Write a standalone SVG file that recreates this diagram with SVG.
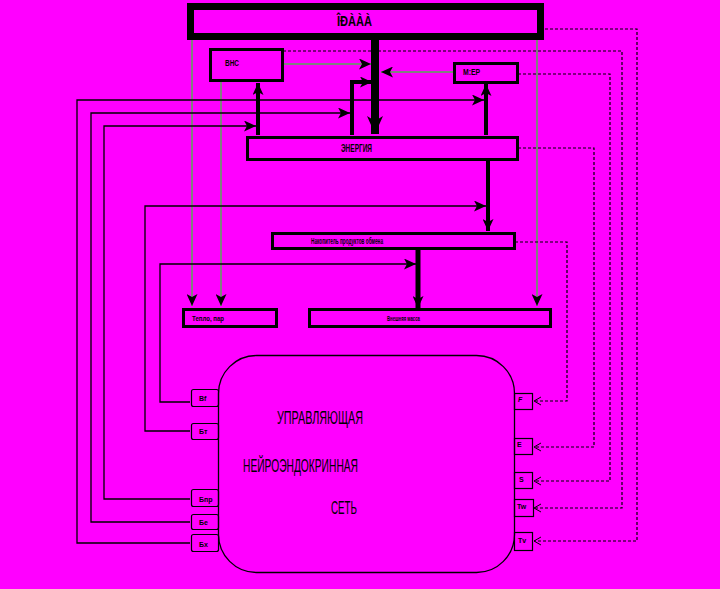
<svg xmlns="http://www.w3.org/2000/svg" width="720" height="589" viewBox="0 0 720 589">
<style>
.bg{fill:#FF00FF}
.box{fill:none;stroke:#000}
.t{font-family:"Liberation Sans",Arial,sans-serif;fill:#000}
.b{font-weight:bold}
.thin{fill:none;stroke:#000;stroke-width:1.3}
.gray{fill:none;stroke:#808080;stroke-width:2}
.dash{fill:none;stroke:#000;stroke-width:1.2;stroke-dasharray:3 2}
.thick{fill:none;stroke:#000}
</style>
<defs>
<marker id="big" markerUnits="userSpaceOnUse" markerWidth="20" markerHeight="16" refX="18" refY="8" orient="auto">
<path d="M0,0 L18,8 L0,16 L5,8 z" fill="#000"/>
</marker>
<marker id="sm" markerUnits="userSpaceOnUse" markerWidth="13" markerHeight="11" refX="12" refY="5.5" orient="auto">
<path d="M0,0 L12,5.5 L0,11 L3,5.5 z" fill="#000"/>
</marker>
<marker id="open" markerUnits="userSpaceOnUse" markerWidth="8" markerHeight="10" refX="7" refY="5" orient="auto">
<path d="M0,1 L7,5 L0,9" fill="none" stroke="#000" stroke-width="1"/>
</marker>
</defs>
<rect class="bg" x="0" y="0" width="720" height="589"/>

<g id="connectors">
<path class="gray" d="M192,40 V306" marker-end="url(#sm)"/>
<path class="gray" d="M221,82 V306" marker-end="url(#sm)"/>
<path class="gray" d="M537,40 V306" marker-end="url(#sm)"/>
<path class="gray" d="M283,64 H371" marker-end="url(#sm)"/>
<path class="gray" d="M453,72 H381" marker-end="url(#sm)"/>
<path class="thick" stroke-width="8" d="M375,40 V134" marker-end="url(#big)"/>
<path class="thick" stroke-width="4" d="M352,135 V82 H372" marker-end="url(#sm)"/>
<path class="thick" stroke-width="4" d="M258,135 V83" marker-end="url(#sm)"/>
<path class="thick" stroke-width="4" d="M486,135 V84" marker-end="url(#sm)"/>
<path class="thick" stroke-width="4" d="M488,160 V231" marker-end="url(#sm)"/>
<path class="thick" stroke-width="5" d="M418,249 V308" marker-end="url(#sm)"/>
<path class="thin" d="M190,543 H77 V100 H484" marker-end="url(#sm)"/>
<path class="thin" d="M190,522 H91 V113 H350" marker-end="url(#sm)"/>
<path class="thin" d="M190,499 H104 V126 H256" marker-end="url(#sm)"/>
<path class="thin" d="M190,431 H145 V206 H486" marker-end="url(#sm)"/>
<path class="thin" d="M190,402 H160 V264 H416" marker-end="url(#sm)"/>
<path class="dash" d="M545,29 H637 V541 H534" marker-end="url(#open)"/>
<path class="dash" d="M283,51 H622 V508 H534" marker-end="url(#open)"/>
<path class="dash" d="M518,74 H610 V481 H534" marker-end="url(#open)"/>
<path class="dash" d="M518,148 H594 V447 H534" marker-end="url(#open)"/>
<path class="dash" d="M515,242 H567 V401 H534" marker-end="url(#open)"/>
</g>

<g id="n-top">
<rect class="box" x="190.5" y="6.5" width="350" height="30" stroke-width="7"/>
<text class="t b" x="337" y="26" font-size="14" textLength="35" lengthAdjust="spacingAndGlyphs">ÎÐÀÀÀ</text>
</g>
<g id="n-left">
<rect class="box" x="210.5" y="49.5" width="72" height="31" stroke-width="3"/>
<text class="t b" x="225" y="66" font-size="9" textLength="14" lengthAdjust="spacingAndGlyphs">ВНС</text>
</g>
<g id="n-right">
<rect class="box" x="454.5" y="63.5" width="63" height="19" stroke-width="3"/>
<text class="t b" x="463" y="75" font-size="9" textLength="17" lengthAdjust="spacingAndGlyphs">М:ЕР</text>
</g>
<g id="n-energy">
<rect class="box" x="247.5" y="137.5" width="270" height="22" stroke-width="3"/>
<text class="t b" x="341" y="152" font-size="11" textLength="31" lengthAdjust="spacingAndGlyphs">ЭНЕРГИЯ</text>
</g>
<g id="n-store">
<rect class="box" x="272.5" y="233.5" width="242" height="15" stroke-width="3"/>
<text class="t b" x="311" y="244" font-size="9" textLength="72" lengthAdjust="spacingAndGlyphs">Накопитель продуктов обмена</text>
</g>
<g id="n-heat">
<rect class="box" x="183.5" y="309.5" width="93" height="17" stroke-width="3"/>
<text class="t b" x="192" y="321" font-size="8" textLength="32" lengthAdjust="spacingAndGlyphs">Тепло, пар</text>
</g>
<g id="n-work">
<rect class="box" x="309.5" y="309.5" width="241" height="17" stroke-width="3"/>
<text class="t b" x="387" y="321" font-size="8" textLength="33" lengthAdjust="spacingAndGlyphs">Внешняя масса</text>
</g>
<g id="n-network">
<rect class="box" x="218.5" y="355.5" width="296" height="217" rx="38" ry="38" stroke-width="1.3"/>
<text class="t" x="277" y="424" font-size="19" textLength="86" lengthAdjust="spacingAndGlyphs">УПРАВЛЯЮЩАЯ</text>
<text class="t" x="243" y="472" font-size="19" textLength="115" lengthAdjust="spacingAndGlyphs">НЕЙРОЭНДОКРИННАЯ</text>
<text class="t" x="331" y="514" font-size="19" textLength="26" lengthAdjust="spacingAndGlyphs">СЕТЬ</text>
</g>
<g id="in-bf"><rect class="box" x="191.5" y="389.5" width="27" height="17" rx="2" stroke-width="1.2"/><text class="t b" x="199" y="401" font-size="7">Вf</text></g>
<g id="in-bt"><rect class="box" x="191.5" y="423.5" width="27" height="16" rx="2" stroke-width="1.2"/><text class="t b" x="199" y="434" font-size="7">Бт</text></g>
<g id="in-bpr"><rect class="box" x="191.5" y="489.5" width="27" height="17" rx="2" stroke-width="1.2"/><text class="t b" x="199" y="502" font-size="7">Бпр</text></g>
<g id="in-be"><rect class="box" x="191.5" y="514.5" width="27" height="15" rx="2" stroke-width="1.2"/><text class="t b" x="199" y="525" font-size="7">Бе</text></g>
<g id="in-bx"><rect class="box" x="191.5" y="534.5" width="27" height="17" rx="2" stroke-width="1.2"/><text class="t b" x="199" y="547" font-size="7">Бх</text></g>
<g id="out-f"><rect class="box" x="514.5" y="393.5" width="18" height="16" stroke-width="1.2"/><text class="t b" x="518" y="402" font-size="7" font-style="italic">F</text></g>
<g id="out-e"><rect class="box" x="514.5" y="438.5" width="18" height="16" stroke-width="1.2"/><text class="t b" x="517" y="447" font-size="7">E</text></g>
<g id="out-s"><rect class="box" x="514.5" y="472.5" width="18" height="16" stroke-width="1.2"/><text class="t b" x="519" y="482" font-size="7">S</text></g>
<g id="out-tw"><rect class="box" x="514.5" y="499.5" width="19" height="17" stroke-width="1.2"/><text class="t b" x="517" y="509" font-size="7">Tw</text></g>
<g id="out-tv"><rect class="box" x="514.5" y="532.5" width="18" height="18" stroke-width="1.2"/><text class="t b" x="518" y="543" font-size="7">Tv</text></g>
</svg>
